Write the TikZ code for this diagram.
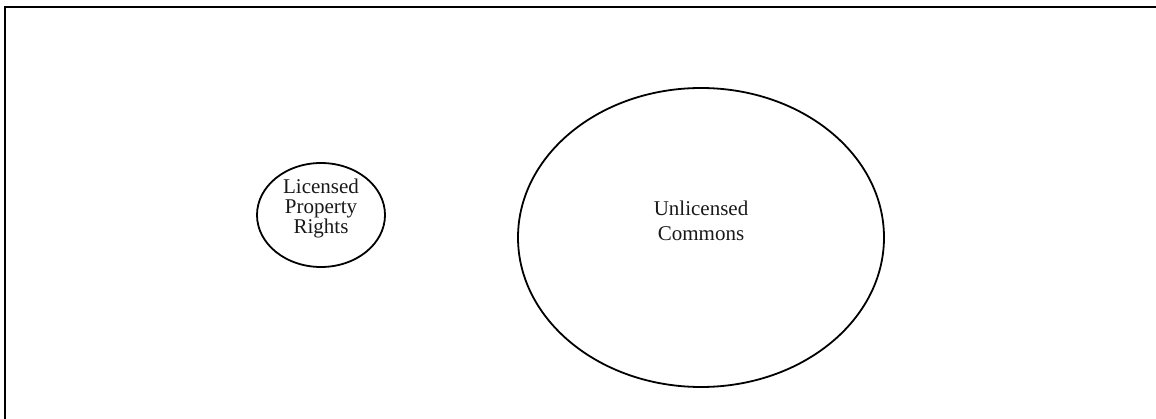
\documentclass[tikz,border=0pt]{standalone}
\usepackage{fontspec}
\setmainfont{Liberation Serif}
\usepackage{tikz}
\usetikzlibrary{shapes}
\usetikzlibrary{positioning, calc}

\begin{document}
\begin{tikzpicture}[x=1pt, y=-1pt, line width=1.8pt,
    region/.style = {draw, ellipse, inner sep=0pt},
    lbl/.style = {align=center, inner sep=0pt, text=black!90}]
            \useasboundingbox (0,0) rectangle (1156,419);
                % Frame
                \draw[line width=2.2pt] (5,419) -- (5,7) -- (1156,7);

                % Nodes
                \node[region, minimum width=128pt, minimum height=104pt] (licensed) at (321,215) {};
                \node[region, minimum width=366pt, minimum height=299pt] (commons) at (701,237.5) {};

                % Texts
                \node[lbl, font=\fontsize{21}{20}\selectfont] (licensedtxt) at ([yshift=7pt]licensed.center) {Licensed\\Property\\Rights};
                \node[lbl, font=\fontsize{21}{25}\selectfont] (commonstxt) at ([yshift=17pt]commons.center) {Unlicensed\\Commons};
            \end{tikzpicture}
\end{document}
